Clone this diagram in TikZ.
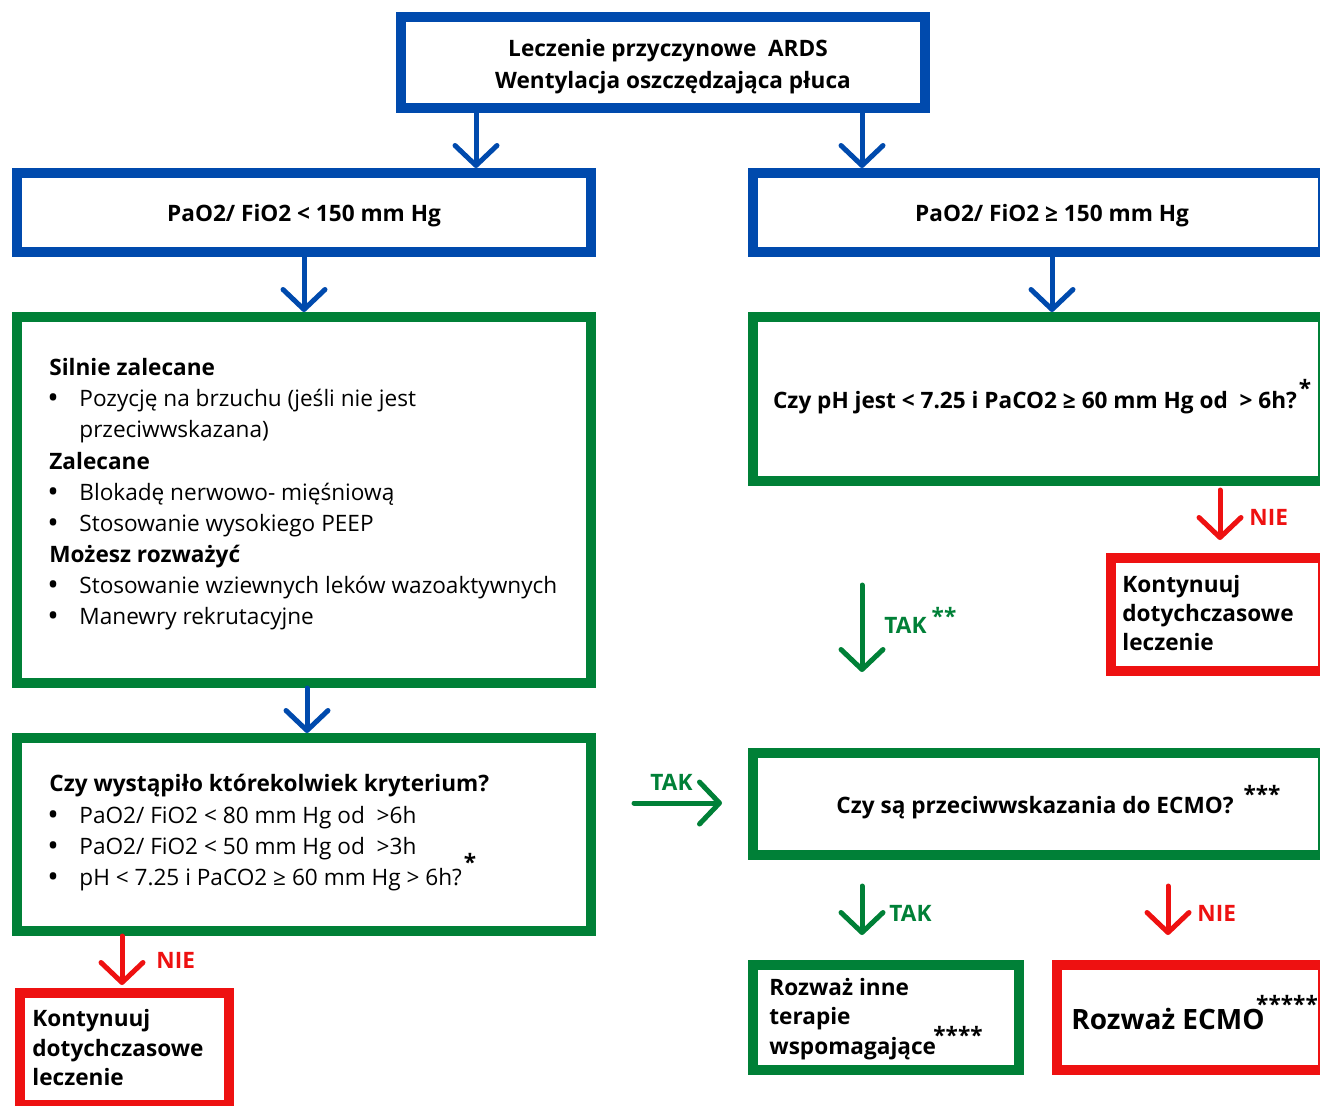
\documentclass[tikz,border=0pt]{standalone}
\usepackage{fontspec}
\setmainfont{Open Sans}
\usetikzlibrary{arrows.meta,calc}
\definecolor{cblue}{HTML}{004AAD}
\definecolor{cgreen}{HTML}{008037}
\definecolor{cred}{HTML}{EE1111}
\newcommand\mkbox[6]{%
  \pgfmathsetmacro\bxw{(#4-#2-10)*0.5}%
  \pgfmathsetmacro\bxh{(#5-#3-10)*0.5}%
  \node[#6, minimum width=\bxw pt, minimum height=\bxh pt] (#1) at ({(#2+#4)/2},{(#3+#5)/2}) {};%
}
\newcommand\bul{\hspace*{-1pt}\makebox[16pt][l]{\raisebox{-1.2pt}{\scalebox{1.35}{\textbullet}}}}
\tikzset{
  bx/.style={draw, line width=5pt, inner sep=0pt, outer sep=2.5pt, fill=white},
  bluebox/.style={bx, draw=cblue},
  greenbox/.style={bx, draw=cgreen},
  redbox/.style={bx, draw=cred},
  arr/.style={line width=2.5pt, line cap=round, -{Straight Barb[length=10pt,width=21pt,line cap=round,line join=round]}},
  bluearr/.style={arr, draw=cblue},
  greenarr/.style={arr, draw=cgreen},
  redarr/.style={arr, draw=cred},
  bt/.style={inner sep=0pt, font=\fontsize{11.3pt}{13pt}\selectfont\bfseries},
  rt/.style={inner sep=0pt, font=\fontsize{11.3pt}{13pt}\selectfont},
  gl/.style={bt, text=cgreen},
  rl/.style={bt, text=cred},
  ast/.style={bt, anchor=base},
}
\begin{document}
\begin{tikzpicture}[x=0.5pt,y=-0.5pt]
\useasboundingbox (0,0) rectangle (1320,1105);
% boxes
\mkbox{top}{396}{12}{930}{113}{bluebox}
\mkbox{lb}{12}{168}{596}{257}{bluebox}
\mkbox{rb}{748}{168}{1328}{257}{bluebox}
\mkbox{lg}{12}{312}{596}{688}{greenbox}
\mkbox{rg}{748}{312}{1328}{486}{greenbox}
\mkbox{rr}{1106}{553}{1328}{676}{redbox}
\mkbox{lg2}{12}{733}{596}{936}{greenbox}
\mkbox{rg2}{748}{748}{1328}{860}{greenbox}
\mkbox{lr}{15}{988}{234}{1110}{redbox}
\mkbox{gt}{748}{960}{1024}{1075}{greenbox}
\mkbox{ecmo}{1052}{960}{1328}{1075}{redbox}
% x reference coordinates
\coordinate (xa) at (476,0);
\coordinate (xb) at (862,0);
\coordinate (xc) at (304,0);
\coordinate (xd) at (1052,0);
\coordinate (xe) at (307,0);
\coordinate (xf) at (1220,0);
\coordinate (xg) at (1168,0);
\coordinate (xh) at (122,0);
\coordinate (yh) at (0,803);
% arrows
\draw[bluearr] (top.south -| xa) -- (lb.north -| xa);
\draw[bluearr] (top.south -| xb) -- (rb.north -| xb);
\draw[bluearr] (lb.south -| xc) -- (lg.north -| xc);
\draw[bluearr] (rb.south -| xd) -- (rg.north -| xd);
\draw[bluearr] (lg.south -| xe) -- (lg2.north -| xe);
\draw[redarr, shorten <=2pt, shorten >=6.5pt] (rg.south -| xf) -- (rr.north -| xf);
\draw[greenarr, shorten <=49.5pt, shorten >=38pt] (rg.south -| xb) -- (rg2.north -| xb);
\draw[greenarr, shorten <=19pt, shorten >=13pt] (lg2.east |- yh) -- (rg2.west |- yh);
\draw[greenarr, shorten <=13pt, shorten >=12.5pt] (rg2.south -| xb) -- (gt.north -| xb);
\draw[redarr, shorten <=13pt, shorten >=12.5pt] (rg2.south -| xg) -- (ecmo.north -| xg);
\draw[redarr, shorten >=1.5pt] (lg2.south -| xh) -- (lr.north -| xh);
% texts
\node[bt, anchor=base] (t1) at (668,56) {Leczenie przyczynowe\ \ ARDS};
\node[bt, anchor=base] (t2) at (673,88) {Wentylacja oszczędzająca płuca};
\node[bt, anchor=base] (t3) at (304,221) {PaO2/ FiO2 < 150 mm Hg};
\node[bt, anchor=base] (t4) at (1052,221) {PaO2/ FiO2 ≥ 150 mm Hg};
\node[bt, anchor=base west] (s1) at (49,375) {Silnie zalecane};
\node[rt, anchor=base west] (s2) at (49,406) {\bul Pozycję na brzuchu (jeśli nie jest};
\node[rt, anchor=base west] (s3) at (49,437) {\hspace*{15pt}przeciwwskazana)};
\node[bt, anchor=base west] (s4) at (49,469) {Zalecane};
\node[rt, anchor=base west] (s5) at (49,500) {\bul Blokadę nerwowo- mięśniową};
\node[rt, anchor=base west] (s6) at (49,531) {\bul Stosowanie wysokiego PEEP};
\node[bt, anchor=base west] (s7) at (49,562) {Możesz rozważyć};
\node[rt, anchor=base west] (s8) at (49,593) {\bul Stosowanie wziewnych leków wazoaktywnych};
\node[rt, anchor=base west] (s9) at (49,624) {\bul Manewry rekrutacyjne};
\node[bt, anchor=base] (q1) at (1035,408) {Czy pH jest < 7.25 i PaCO2 ≥ 60 mm Hg od\ \ > 6h?};
\node[ast] (q1a) at (1305,396) {*};
\node[rl, anchor=base west] (nie1) at (1249,525) {NIE};
\node[bt, anchor=base west] (k1) at (1122,592) {Kontynuuj};
\node[bt, anchor=base west] (k2) at (1122,621) {dotychczasowe};
\node[bt, anchor=base west] (k3) at (1122,650) {leczenie};
\node[gl, anchor=base west] (tak1) at (884,633) {TAK};
\node[ast, text=cgreen] (tak1a) at (944,624) {**};
\node[bt, anchor=base west] (c1) at (49,791) {Czy wystąpiło którekolwiek kryterium?};
\node[rt, anchor=base west] (c2) at (49,823) {\bul PaO2/ FiO2 < 80 mm Hg od\ \ >6h};
\node[rt, anchor=base west] (c3) at (49,854) {\bul PaO2/ FiO2 < 50 mm Hg od\ \ >3h};
\node[rt, anchor=base west] (c4) at (49,885) {\bul pH < 7.25 i PaCO2 ≥ 60 mm Hg > 6h?};
\node[ast] (c4a) at (470,870) {*};
\node[gl, anchor=base west] (tak2) at (650,790) {TAK};
\node[bt, anchor=base] (e1) at (1035,813) {Czy są przeciwwskazania do ECMO?};
\node[ast] (e1a) at (1262,802) {***};
\node[gl, anchor=base west] (tak3) at (889,921) {TAK};
\node[rl, anchor=base west] (nie2) at (1197,921) {NIE};
\node[rl, anchor=base west] (nie3) at (156,968) {NIE};
\node[bt, anchor=base west] (g1) at (769,995) {Rozważ inne};
\node[bt, anchor=base west] (g2) at (769,1024) {terapie};
\node[bt, anchor=base west] (g3) at (769,1054) {wspomagające};
\node[ast] (g3a) at (958,1043) {****};
\node[bt, anchor=base west, font=\fontsize{14pt}{16pt}\selectfont\bfseries] (ec) at (1071,1029) {Rozważ ECMO};
\node[ast] (eca) at (1287,1012) {*****};
\node[bt, anchor=base west] (k4) at (32,1026) {Kontynuuj};
\node[bt, anchor=base west] (k5) at (32,1056) {dotychczasowe};
\node[bt, anchor=base west] (k6) at (32,1085) {leczenie};
\end{tikzpicture}
\end{document}
